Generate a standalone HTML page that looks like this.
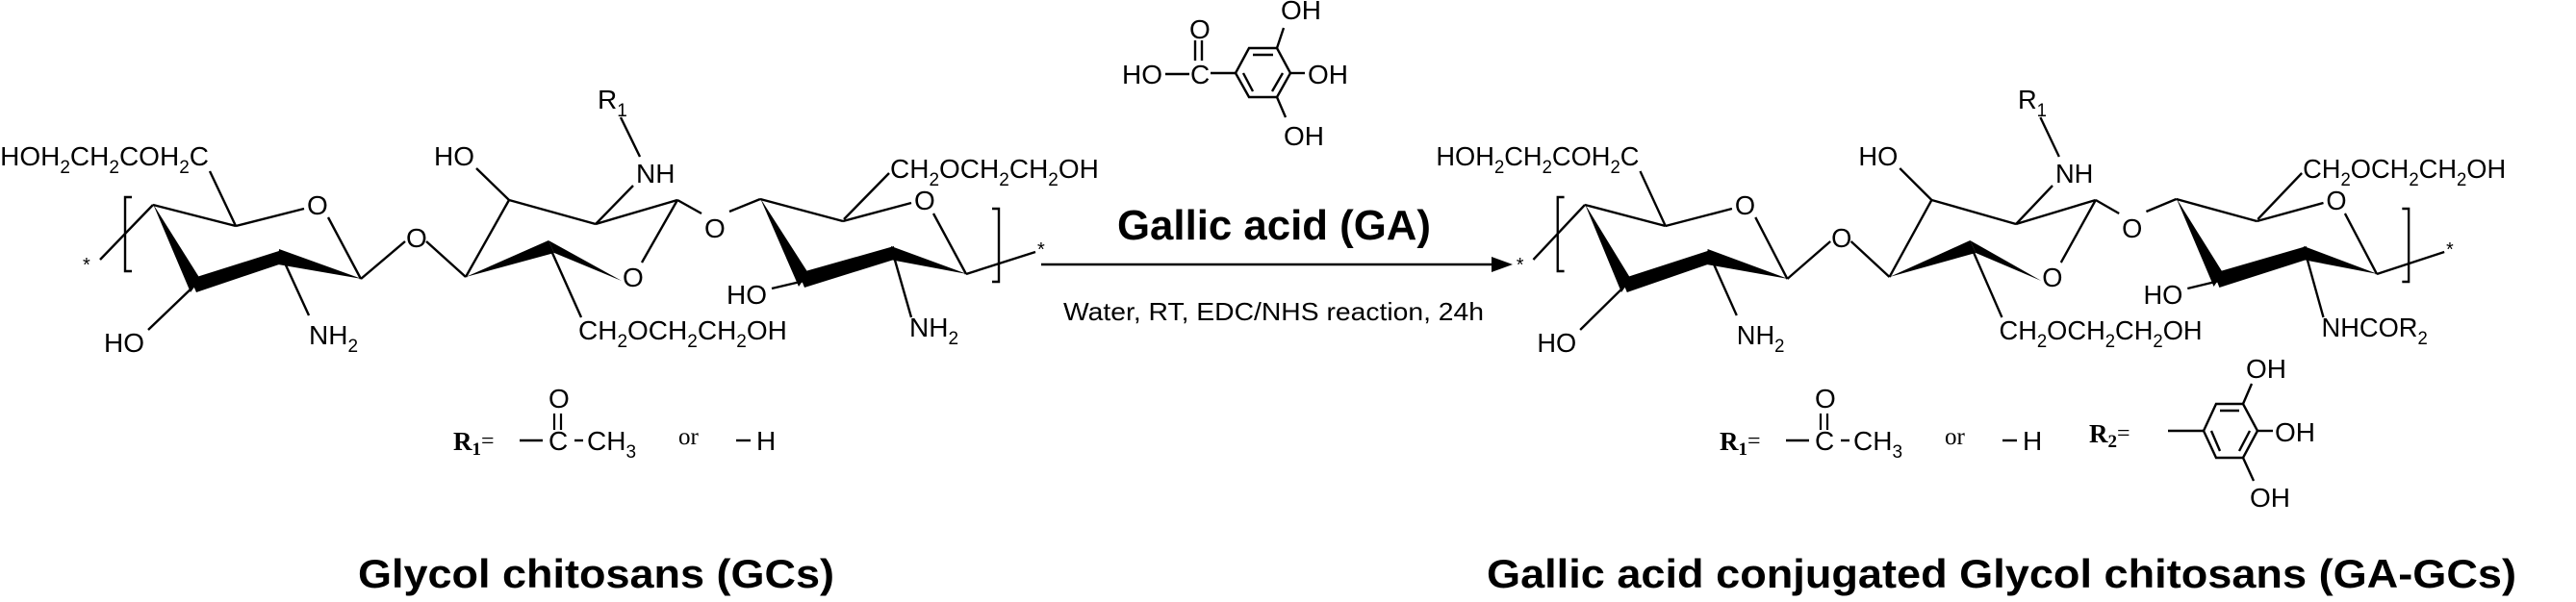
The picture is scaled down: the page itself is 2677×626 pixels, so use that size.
<!DOCTYPE html>
<html><head><meta charset="utf-8"><style>
html,body{margin:0;padding:0;background:#fff;}
svg{display:block;}
text{font-family:"Liberation Sans",sans-serif;fill:#000;}
.m{font-size:28px;}
.s{font-size:19px;}
.sr{font-family:"Liberation Serif",serif;}
</style></head><body>
<svg width="2677" height="626" viewBox="0 0 2677 626" xmlns="http://www.w3.org/2000/svg">
<defs>
<g id="mol" stroke="#000" stroke-width="2.4" fill="none">
  <line x1="104" y1="270" x2="159" y2="213"/>
  <path d="M137,205 H130 V282 H137"/>
  <line x1="159" y1="213" x2="245" y2="235"/>
  <line x1="245" y1="235" x2="316" y2="217"/>
  <line x1="341" y1="226" x2="375" y2="290"/>
  <line x1="245" y1="235" x2="218" y2="178"/>
  <polygon fill="#000" stroke="none" points="159,212 208,290 198,304"/>
  <polygon fill="#000" stroke="none" points="198,290 293,260 293,274 204,304"/>
  <polygon fill="#000" stroke="none" points="290,259 376,290 289,275"/>
  <line x1="202" y1="297" x2="154" y2="343"/>
  <line x1="293" y1="267" x2="321" y2="328"/>
  <line x1="375" y1="290" x2="421" y2="251"/>
  <line x1="443" y1="251" x2="484" y2="288"/>
  <line x1="484" y1="288" x2="529" y2="208"/>
  <line x1="529" y1="208" x2="495" y2="175"/>
  <line x1="529" y1="208" x2="619" y2="233"/>
  <line x1="619" y1="233" x2="704" y2="208"/>
  <line x1="619" y1="233" x2="658" y2="193"/>
  <line x1="665" y1="163" x2="645" y2="122"/>
  <line x1="704" y1="208" x2="667" y2="273"/>
  <polygon fill="#000" stroke="none" points="484,288 570,250 576,263"/>
  <polygon fill="#000" stroke="none" points="570,250 646,292 576,263"/>
  <line x1="574" y1="263" x2="604" y2="330"/>
  <line x1="704" y1="208" x2="729" y2="222"/>
  <line x1="758" y1="220" x2="790" y2="207"/>
  <line x1="790" y1="207" x2="876" y2="230"/>
  <line x1="876" y1="230" x2="947" y2="211"/>
  <line x1="970" y1="222" x2="1004" y2="285"/>
  <line x1="877" y1="228" x2="924" y2="180"/>
  <polygon fill="#000" stroke="none" points="790,206 840,284 830,298"/>
  <polygon fill="#000" stroke="none" points="830,284 929,256 929,270 836,299"/>
  <polygon fill="#000" stroke="none" points="926,256 1005,285 925,270"/>
  <line x1="836" y1="292" x2="802" y2="300"/>
  <line x1="929" y1="267" x2="947" y2="330"/>
  <line x1="1004" y1="285" x2="1076" y2="262"/>
  <path d="M1031,217 H1038 V293 H1031"/>
</g>
<g id="moltxt">
  <text x="86" y="282" font-size="20">*</text>
  <text x="319" y="223" class="m">O</text>
  <text x="108" y="366" class="m">HO</text>
  <text x="321" y="358" class="m">NH<tspan class="s" dy="8">2</tspan></text>
  <text x="422" y="257" class="m">O</text>
  <text x="451" y="172" class="m">HO</text>
  <text x="661" y="190" class="m">NH</text>
  <text x="621" y="113" class="m">R<tspan class="s" dy="8">1</tspan></text>
  <text x="647" y="298" class="m">O</text>
  <text x="601" y="353" class="m">CH<tspan class="s" dy="8">2</tspan><tspan dy="-8">OCH</tspan><tspan class="s" dy="8">2</tspan><tspan dy="-8">CH</tspan><tspan class="s" dy="8">2</tspan><tspan dy="-8">OH</tspan></text>
  <text x="732" y="247" class="m">O</text>
  <text x="950" y="218" class="m">O</text>
  <text x="925" y="185" class="m">CH<tspan class="s" dy="8">2</tspan><tspan dy="-8">OCH</tspan><tspan class="s" dy="8">2</tspan><tspan dy="-8">CH</tspan><tspan class="s" dy="8">2</tspan><tspan dy="-8">OH</tspan></text>
  <text x="755" y="316" class="m">HO</text>
  <text x="1078" y="266" font-size="20">*</text>
  <text x="217" y="172" class="m" text-anchor="end">HOH<tspan class="s" dy="8">2</tspan><tspan dy="-8">CH</tspan><tspan class="s" dy="8">2</tspan><tspan dy="-8">COH</tspan><tspan class="s" dy="8">2</tspan><tspan dy="-8">C</tspan></text>
</g>
</defs>

<use href="#mol"/>
<use href="#moltxt"/>
<text x="945" y="350" class="m">NH<tspan class="s" dy="8">2</tspan></text>

<g transform="translate(1647,0) scale(0.974,1) translate(-159,0)">
  <use href="#mol"/>
  <use href="#moltxt"/>
  <text x="945" y="350" class="m">NHCOR<tspan class="s" dy="8">2</tspan></text>
</g>

<g stroke="#000" stroke-width="2.4" fill="none">
  <line x1="1211" y1="77" x2="1236" y2="77"/>
  <line x1="1242" y1="42" x2="1242" y2="63"/>
  <line x1="1249" y1="42" x2="1249" y2="63"/>
  <line x1="1258" y1="76" x2="1284" y2="76"/>
  <polygon points="1284,76 1298,50 1327,50 1341,76 1327,101 1298,101"/>
  <line x1="1302" y1="57" x2="1323" y2="57"/>
  <line x1="1333" y1="76" x2="1322" y2="95"/>
  <line x1="1292" y1="76" x2="1302" y2="95"/>
  <line x1="1327" y1="50" x2="1334" y2="29"/>
  <line x1="1341" y1="76" x2="1356" y2="76"/>
  <line x1="1327" y1="101" x2="1336" y2="122"/>
</g>
<text x="1166" y="87" class="m">HO</text>
<text x="1237" y="87" class="m">C</text>
<text x="1236" y="40" class="m">O</text>
<text x="1331" y="20" class="m">OH</text>
<text x="1359" y="87" class="m">OH</text>
<text x="1334" y="151" class="m">OH</text>

<line x1="1082" y1="275" x2="1554" y2="275" stroke="#000" stroke-width="2.4"/>
<polygon points="1572,275 1550,267 1550,283" fill="#000"/>
<text x="1161" y="249" font-size="44" font-weight="bold" textLength="326" lengthAdjust="spacingAndGlyphs">Gallic acid (GA)</text>
<text x="1105" y="333" font-size="26" textLength="437" lengthAdjust="spacingAndGlyphs">Water, RT, EDC/NHS  reaction, 24h</text>

<g id="r1leg">
  <text x="471" y="468" class="sr" font-size="27" font-weight="bold">R<tspan font-size="19" dy="5">1</tspan></text>
  <text x="500" y="466" class="sr" font-size="24">=</text>
  <line x1="540" y1="458" x2="564" y2="458" stroke="#000" stroke-width="2.4"/>
  <text x="570" y="468" class="m">C</text>
  <line x1="597" y1="458" x2="606" y2="458" stroke="#000" stroke-width="2.4"/>
  <text x="610" y="468" class="m">CH<tspan class="s" dy="8">3</tspan></text>
  <text x="570" y="424" class="m">O</text>
  <line x1="576" y1="430" x2="576" y2="447" stroke="#000" stroke-width="2.2"/>
  <line x1="583" y1="430" x2="583" y2="447" stroke="#000" stroke-width="2.2"/>
  <text x="705" y="462" class="sr" font-size="25">or</text>
  <line x1="765" y1="458" x2="780" y2="458" stroke="#000" stroke-width="2.4"/>
  <text x="786" y="468" class="m">H</text>
</g>
<use href="#r1leg" transform="translate(1316,0)"/>

<text x="2171" y="460" class="sr" font-size="27" font-weight="bold">R<tspan font-size="19" dy="5">2</tspan></text>
<text x="2200" y="458" class="sr" font-size="24">=</text>
<g stroke="#000" stroke-width="2.4" fill="none">
  <line x1="2253" y1="448" x2="2290" y2="448"/>
  <polygon points="2290,448 2303,420 2331,420 2346,448 2331,476 2303,476"/>
  <line x1="2307" y1="427" x2="2327" y2="427"/>
  <line x1="2338" y1="448" x2="2327" y2="469"/>
  <line x1="2298" y1="448" x2="2307" y2="469"/>
  <line x1="2331" y1="420" x2="2340" y2="399"/>
  <line x1="2346" y1="448" x2="2362" y2="448"/>
  <line x1="2331" y1="476" x2="2342" y2="500"/>
</g>
<text x="2334" y="393" class="m">OH</text>
<text x="2364" y="459" class="m">OH</text>
<text x="2338" y="527" class="m">OH</text>

<text x="372" y="611" font-size="42" font-weight="bold" textLength="495" lengthAdjust="spacingAndGlyphs">Glycol chitosans (GCs)</text>
<text x="1545" y="611" font-size="42" font-weight="bold" textLength="1070" lengthAdjust="spacingAndGlyphs">Gallic acid conjugated Glycol chitosans (GA-GCs)</text>
</svg>
</body></html>
